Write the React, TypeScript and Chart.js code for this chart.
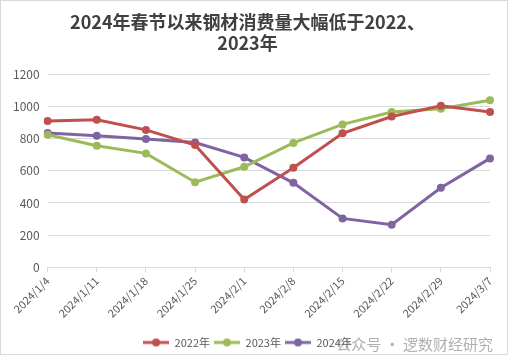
import React, { useEffect, useRef } from "react";
import { Chart, registerables } from "chart.js";

Chart.register(...registerables);

const categories = ["2024/1/4", "2024/1/11", "2024/1/18", "2024/1/25", "2024/2/1", "2024/2/8", "2024/2/15", "2024/2/22", "2024/2/29", "2024/3/7"];
const series2022 = [910, 917, 854, 760, 421, 619, 833, 937, 1004, 965];
const series2023 = [824, 756, 708, 529, 625, 773, 888, 965, 985, 1038];
const series2024 = [835, 817, 798, 775, 683, 525, 304, 265, 494, 677];
const seriesNames = ["2022年", "2023年", "2024年"];
const colors = ["#C0504D", "#9BBB59", "#8064A2"];
const titleLines = ["2024年春节以来钢材消费量大幅低于2022、", "2023年"];
const watermark = "公众号 · 逻数财经研究";

function legendIcon(color: string): HTMLCanvasElement {
  const c = document.createElement("canvas");
  c.width = 26;
  c.height = 10;
  const ctx = c.getContext("2d")!;
  ctx.strokeStyle = color;
  ctx.lineWidth = 3;
  ctx.beginPath();
  ctx.moveTo(0, 5);
  ctx.lineTo(26, 5);
  ctx.stroke();
  ctx.fillStyle = color;
  ctx.beginPath();
  ctx.arc(13, 5, 4, 0, Math.PI * 2);
  ctx.fill();
  return c;
}

export default function App() {
  const ref = useRef<HTMLCanvasElement>(null);
  useEffect(() => {
    const all = [series2022, series2023, series2024];
    const icons = colors.map(legendIcon);
    const font = "'Noto Sans CJK SC', 'Noto Sans', sans-serif";
    const chart = new Chart(ref.current!, {
      type: "line",
      data: {
        labels: categories,
        datasets: all.map((d, i) => ({
          label: seriesNames[i],
          data: d,
          borderColor: colors[i],
          backgroundColor: colors[i],
          borderWidth: 3,
          pointRadius: 4,
          pointBorderWidth: 0,
          pointBackgroundColor: colors[i],
          tension: 0,
        })),
      },
      options: {
        animation: false,
        responsive: false,
        layout: { padding: { left: 4, right: 17, top: 4, bottom: -4 } },
        plugins: {
          title: {
            display: true,
            text: titleLines,
            color: "#404040",
            font: { family: font, size: 18, weight: "bold" },
            padding: { top: 6, bottom: 20 },
            lineHeight: 1.25,
          },
          legend: {
            position: "bottom",
            labels: {
              usePointStyle: true,
              pointStyleWidth: 26,
              boxHeight: 10,
              color: "#595959",
              font: { family: font, size: 11 },
              padding: 4,
              generateLabels: (ch: any) => {
                const items = Chart.defaults.plugins.legend.labels.generateLabels(ch);
                return items.map((it: any, i: number) => ({ ...it, pointStyle: icons[i] }));
              },
            },
          },
          tooltip: { enabled: false },
        },
        scales: {
          x: {
            offset: false,
            afterFit: (s: any) => {
              s.height += 11;
            },
            grid: { display: true, drawOnChartArea: false, drawTicks: true, tickLength: 5, color: "#d9d9d9" },
            border: { color: "#d9d9d9" },
            ticks: {
              color: "#595959",
              font: { family: font, size: 11 },
              maxRotation: 45,
              minRotation: 45,
              autoSkip: false,
              padding: 2,
            },
          },
          y: {
            min: 0,
            max: 1200,
            grid: { color: "#d9d9d9", drawTicks: false },
            border: { display: false },
            ticks: {
              stepSize: 200,
              color: "#595959",
              font: { family: font, size: 12 },
              padding: 8,
              callback: (v: any) => String(v),
            },
          },
        },
      },
    } as any);
    return () => chart.destroy();
  }, []);

  return (
    <div
      style={{
        position: "absolute",
        left: 0,
        top: 0,
        width: 508,
        height: 355,
        border: "1px solid #d9d9d9",
        boxSizing: "border-box",
        background: "#fff",
      }}
    >
      <canvas ref={ref} width={506} height={353} style={{ display: "block" }} />
      <div
        style={{
          position: "absolute",
          right: 14,
          top: 332,
          fontFamily: "'Noto Sans CJK SC', sans-serif",
          fontSize: 15,
          color: "rgba(110,110,110,0.55)",
          whiteSpace: "nowrap",
          pointerEvents: "none",
        }}
      >
        {watermark}
      </div>
    </div>
  );
}
